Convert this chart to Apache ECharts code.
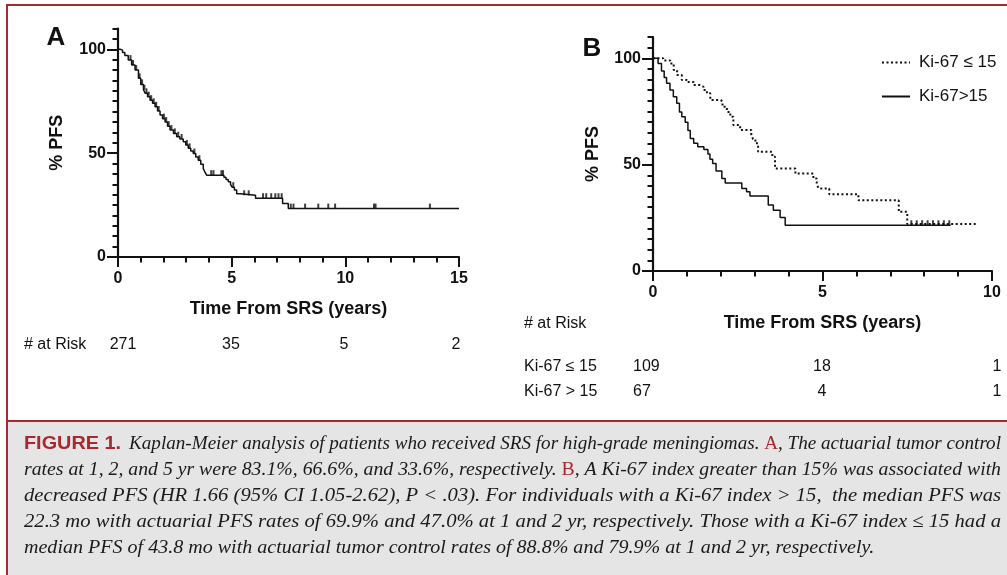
<!DOCTYPE html>
<html><head><meta charset="utf-8">
<script src="https://cdn.jsdelivr.net/npm/echarts@6/dist/echarts.min.js"></script>
<style>html,body{margin:0;padding:0;background:#fff}#c{width:1007px;height:575px}</style>
</head><body><div id="c"></div>
<script>
// ---------------- DATA ----------------
// Panel A: overall Kaplan-Meier curve [years, %PFS]
const kmAll = [[0,100],[0.09,99.6],[0.2,98.4],[0.3,97],[0.45,94.8],[0.6,92.4],[0.75,90],[0.9,86],[1.0,83.1],[1.12,80.5],[1.2,78.8],[1.3,77.2],[1.41,75.5],[1.52,74],[1.63,72.3],[1.74,70.3],[1.85,68.3],[1.96,66.6],[2.07,65],[2.18,63],[2.29,61.1],[2.44,59.5],[2.58,57.9],[2.72,56.8],[2.87,55.5],[2.98,53.9],[3.09,52.3],[3.2,51],[3.31,49.8],[3.42,48.2],[3.53,46.6],[3.64,44.6],[3.75,42.6],[3.82,41],[3.9,39.4],[4.66,38.4],[4.75,37.3],[4.85,36.2],[4.95,35],[5.02,33.6],[5.12,32.2],[5.22,30.5],[5.37,29.7],[6.05,28.3],[7.24,25.7],[7.49,23.3],[15,23.3]];
const censorAll = [[0.55,94.8],[0.66,92.4],[0.8,90],[0.95,86],[1.06,83.1],[1.16,80.5],[1.25,78.8],[1.35,77.2],[1.46,75.5],[1.57,74],[1.68,72.3],[1.79,70.3],[2.02,66.6],[2.12,65],[2.23,63],[2.35,61.1],[2.5,59.5],[2.65,57.9],[2.8,56.8],[3.03,53.9],[3.15,52.3],[3.36,49.8],[3.58,46.6],[4.1,39.4],[4.2,39.4],[4.55,39.4],[4.62,39.4],[5.07,33.6],[5.55,29.7],[5.75,29.7],[6.38,28.3],[6.52,28.3],[6.74,28.3],[6.92,28.3],[7.06,28.3],[7.2,28.3],[7.6,23.3],[7.72,23.3],[8.23,23.3],[8.81,23.3],[9.25,23.3],[9.55,23.3],[11.26,23.3],[11.33,23.3],[13.72,23.3]];
// Panel B: Ki-67 groups
const seriesNames = ['Ki-67 \u2264 15', 'Ki-67>15'];
const kmLow = [[0,100],[0.3,99],[0.51,97.6],[0.61,94.5],[0.71,92.1],[0.85,89.8],[1.0,88.8],[1.2,87.4],[1.39,86.6],[1.49,85.1],[1.59,83.5],[1.69,80.4],[1.98,79.9],[2.05,77.2],[2.18,74.8],[2.28,72.5],[2.37,68.6],[2.57,66.3],[2.9,64],[2.95,62],[3.02,60],[3.1,56],[3.52,53.7],[3.6,48.2],[4.2,45.8],[4.73,43.5],[4.83,41.1],[4.88,38.8],[5.2,36.1],[6.06,33.2],[7.25,27.8],[7.5,22.1],[9.59,22.1]];
const kmHigh = [[0,100],[0.15,97.6],[0.25,94],[0.33,91],[0.4,88.2],[0.5,85.1],[0.6,81.9],[0.7,78.8],[0.78,74.8],[0.85,72.5],[0.95,69.9],[1.03,66],[1.1,62.3],[1.2,60],[1.32,58.4],[1.5,57.1],[1.62,55],[1.68,52.5],[1.76,50.5],[1.86,47],[2.03,43.5],[2.13,41.4],[2.62,38.8],[2.76,37.2],[2.86,35.3],[3.4,31],[3.55,28.5],[3.75,25.2],[3.9,21.5],[8.78,21.5]];
const censorB = [[7.62,21.5],[7.78,21.5],[7.94,21.5],[8.1,21.5],[8.26,21.5],[8.42,21.5],[8.58,21.5],[8.74,21.5]];
// Tick labels
const yLabelValues = [0, 50, 100];
// Numbers at risk
const riskA = ['271', '35', '5', '2'];
const riskLow = ['109', '18', '1'];
const riskHigh = ['67', '4', '1'];
// Caption lines (segments: [text, kind])
const captionLines = [
  [['FIGURE 1.', 'fig'], [' Kaplan-Meier analysis of patients who received SRS for high-grade meningiomas. ', 'it'], ['A', 'red'], [', The actuarial tumor control', 'it']],
  [['rates at 1, 2, and 5 yr were 83.1%, 66.6%, and 33.6%, respectively. ', 'it'], ['B', 'red'], [', A Ki-67 index greater than 15% was associated with', 'it']],
  [['decreased PFS (HR 1.66 (95% CI 1.05-2.62), P < .03). For individuals with a Ki-67 index > 15,  the median PFS was', 'it']],
  [['22.3 mo with actuarial PFS rates of 69.9% and 47.0% at 1 and 2 yr, respectively. Those with a Ki-67 index \u2264 15 had a', 'it']],
  [['median PFS of 43.8 mo with actuarial tumor control rates of 88.8% and 79.9% at 1 and 2 yr, respectively.', 'it']]
];

// ---------------- LAYOUT / STYLE ----------------
const BLACK = '#111';
const RED = '#a8282f';
const SANS = '"Liberation Sans", Arial, sans-serif';
const chart = echarts.init(document.getElementById('c'), null, {renderer: 'canvas'});

function xAxisCfg(grid, max) {
  return {
    type: 'value', gridIndex: grid, min: 0, max: max, interval: 5,
    axisLine: {show: true, onZero: false, lineStyle: {color: BLACK, width: 2.2}},
    axisTick: {show: true, length: 10, lineStyle: {color: BLACK, width: 2}},
    minorTick: {show: true, splitNumber: 5, length: 5.5, lineStyle: {color: BLACK, width: 2}},
    splitLine: {show: false}, minorSplitLine: {show: false},
    axisLabel: {color: BLACK, fontSize: 16, fontWeight: 'bold', fontFamily: SANS, margin: 14},
    name: 'Time From SRS (years)', nameLocation: 'middle', nameGap: 43,
    nameTextStyle: {color: BLACK, fontSize: 18, fontWeight: 'bold', fontFamily: SANS}
  };
}
function yMinorCfg(grid) {
  return {
    type: 'value', gridIndex: grid, min: 0, max: 110, interval: 5, position: 'left',
    axisLine: {show: true, onZero: false, lineStyle: {color: BLACK, width: 2.2}},
    axisTick: {show: true, length: 5.5, lineStyle: {color: BLACK, width: 2}},
    axisLabel: {show: false}, splitLine: {show: false}
  };
}
function yMajorCfg(grid, gap) {
  return {
    type: 'value', gridIndex: grid, min: 0, max: 110, position: 'left',
    axisLine: {show: false},
    axisTick: {show: true, length: 11, customValues: yLabelValues, lineStyle: {color: BLACK, width: 2}},
    axisLabel: {customValues: yLabelValues, color: BLACK, fontSize: 16, fontWeight: 'bold', fontFamily: SANS, margin: 12},
    splitLine: {show: false},
    name: '% PFS', nameLocation: 'middle', nameGap: gap, nameRotate: 90,
    nameTextStyle: {color: BLACK, fontSize: 18, fontWeight: 'bold', fontFamily: SANS}
  };
}
const censorStyle = {symbol: 'rect', symbolSize: [2, 5], symbolOffset: [0, -2.5], itemStyle: {color: BLACK}, z: 4, silent: true};

// ---- caption layout using text measurement ----
const mctx = document.createElement('canvas').getContext('2d');
const CAP_SIZE = 19;
const segFont = {
  fig: {fontStyle: 'normal', fontWeight: 'bold', fontFamily: '"Liberation Sans Narrow", "Liberation Sans", sans-serif', fill: RED, fontSize: 18},
  it: {fontStyle: 'italic', fontWeight: 'normal', fontFamily: '"Liberation Serif", serif', fill: '#1a1a1a', fontSize: CAP_SIZE},
  red: {fontStyle: 'normal', fontWeight: 'normal', fontFamily: '"Liberation Serif", serif', fill: RED, fontSize: CAP_SIZE}
};
function measure(text, k) {
  const f = segFont[k];
  mctx.font = f.fontStyle + ' ' + f.fontWeight + ' ' + f.fontSize + 'px ' + f.fontFamily;
  return mctx.measureText(text).width;
}
const capLeft = 24, capRight = 1001, capTop = 444, capStep = 26;
const captionGraphics = [];
const scales = [];
captionLines.forEach((segs, li) => {
  let startX = capLeft;
  let s = segs;
  if (segs[0][1] === 'fig') {
    const wf = measure(segs[0][0], 'fig');
    captionGraphics.push({type: 'text', x: capLeft, y: capTop, scaleX: 97 / wf,
      style: Object.assign({text: segs[0][0], verticalAlign: 'middle', align: 'left'}, segFont.fig)});
    startX = capLeft + 105;
    s = segs.slice(1);
    s = [[s[0][0].replace(/^ /, ''), s[0][1]]].concat(s.slice(1));
  }
  let off = 0; const children = [];
  s.forEach(([t, k]) => {
    children.push({type: 'text', x: off, y: 0, style: Object.assign({text: t, verticalAlign: 'middle', align: 'left'}, segFont[k])});
    off += measure(t, k);
  });
  let sc;
  if (li < captionLines.length - 1) { sc = (capRight - startX) / off; scales.push(sc); }
  else { sc = scales.reduce((a, b) => a + b, 0) / scales.length; }
  captionGraphics.push({type: 'group', x: startX, y: capTop + li * capStep, scaleX: sc, children: children});
});

function txt(text, x, y, align, extra) {
  return {type: 'text', x: x, y: y, style: Object.assign({text: text, align: align || 'left', verticalAlign: 'middle',
    fill: BLACK, fontSize: 16, fontFamily: SANS}, extra || {})};
}
const riskAX = [123, 231, 344, 456];
const riskBX = [[633, 'left'], [822, 'center'], [997, 'center']];

const graphics = [
  {type: 'line', shape: {x1: 6, y1: 5, x2: 1007, y2: 5}, style: {stroke: RED, lineWidth: 2}},
  {type: 'line', shape: {x1: 7, y1: 4, x2: 7, y2: 575}, style: {stroke: RED, lineWidth: 2}},
  {type: 'rect', shape: {x: 8, y: 421, width: 999, height: 154}, style: {fill: '#e5e5e5'}, z: -1},
  {type: 'line', shape: {x1: 6, y1: 421, x2: 1007, y2: 421}, style: {stroke: RED, lineWidth: 2}},
  txt('A', 56, 38, 'center', {fontSize: 26, fontWeight: 'bold'}),
  txt('B', 592, 49, 'center', {fontSize: 26, fontWeight: 'bold'}),
  txt('# at Risk', 24, 345),
  txt('# at Risk', 524, 324),
  txt('Ki-67 \u2264 15', 524, 367),
  txt('Ki-67 > 15', 524, 392)
];
riskA.forEach((v, i) => graphics.push(txt(v, riskAX[i], 345, 'center')));
riskLow.forEach((v, i) => graphics.push(txt(v, riskBX[i][0], 367, riskBX[i][1])));
riskHigh.forEach((v, i) => graphics.push(txt(v, riskBX[i][0], 392, riskBX[i][1])));
captionGraphics.forEach(g => graphics.push(g));

chart.setOption({
  animation: false,
  backgroundColor: '#fff',
  grid: [
    {left: 118, top: 28.5, width: 341, height: 228.5},
    {left: 653, top: 37, width: 339, height: 234}
  ],
  xAxis: [xAxisCfg(0, 15), xAxisCfg(1, 10)],
  yAxis: [yMinorCfg(0), yMajorCfg(0, 52), yMinorCfg(1), yMajorCfg(1, 51)],
  legend: {
    data: seriesNames, orient: 'vertical', left: 876, top: 47.5,
    itemWidth: 28, itemHeight: 20, itemGap: 14,
    itemStyle: {opacity: 0, borderWidth: 0},
    textStyle: {color: BLACK, fontSize: 17, fontFamily: SANS, lineHeight: 20, padding: [0, 0, 0, 4]}
  },
  series: [
    {type: 'line', name: 'All patients', xAxisIndex: 0, yAxisIndex: 0, data: kmAll, step: 'end', symbol: 'none',
      lineStyle: {color: BLACK, width: 1.5}, z: 3},
    Object.assign({type: 'scatter', name: 'Censored A', xAxisIndex: 0, yAxisIndex: 0, data: censorAll}, censorStyle),
    {type: 'line', name: seriesNames[0], xAxisIndex: 1, yAxisIndex: 2, data: kmLow, step: 'end', symbol: 'none',
      itemStyle: {color: BLACK}, lineStyle: {color: BLACK, width: 2, type: [2, 2.5]}, z: 3},
    {type: 'line', name: seriesNames[1], xAxisIndex: 1, yAxisIndex: 2, data: kmHigh, step: 'end', symbol: 'none',
      itemStyle: {color: BLACK}, lineStyle: {color: BLACK, width: 1.5}, z: 3},
    Object.assign({type: 'scatter', name: 'Censored B', xAxisIndex: 1, yAxisIndex: 2, data: censorB}, censorStyle)
  ],
  graphic: graphics
});
</script>
</body></html>
